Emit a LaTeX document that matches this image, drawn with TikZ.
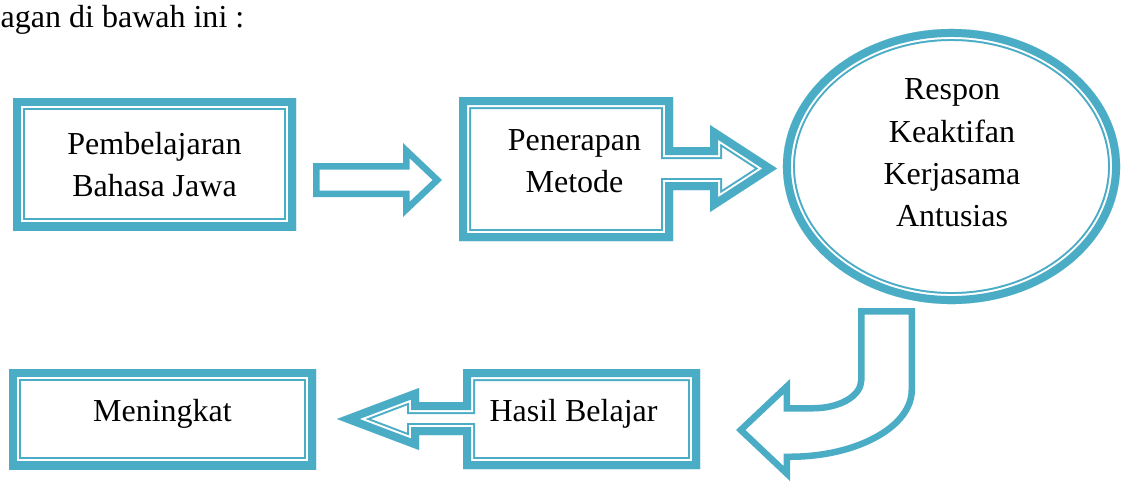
\documentclass[tikz,border=0pt]{standalone}
\usepackage{fontspec}
\setmainfont{Liberation Serif}
\definecolor{aqua}{RGB}{75,172,198}
\newcommand{\px}{0.025cm}
% thick band + thin inner line, both kept inside the outline
\newcommand{\dblframe}[1]{%
  \begin{scope}
    \clip #1;
    \draw[aqua,line width=24*\px] #1;
    \draw[white,line width=20*\px] #1;
    \draw[aqua,line width=16*\px] #1;
  \end{scope}}
% single band inside the outline
\newcommand{\oneframe}[1]{%
  \begin{scope}
    \clip #1;
    \draw[aqua,line width=13*\px] #1;
  \end{scope}}
\tikzset{lbl/.style={font=\fontsize{22.76}{29.9}\selectfont,align=center,inner sep=0pt}}

\begin{document}
\begin{tikzpicture}[x=0.025cm,y=-0.025cm,line join=miter]
\useasboundingbox (0,0) rectangle (1123,482);

% frames
\dblframe{(13,98) rectangle (296,230)}
\oneframe{(313,163) -- (403,163) -- (403,143) -- (442,180) -- (403,217) -- (403,197) -- (313,197) -- cycle}
\dblframe{(459,97) -- (673,97) -- (673,147) -- (710,147) -- (710,125) -- (777,168.5) -- (710,212) -- (710,190) -- (673,190) -- (673,241) -- (459,241) -- cycle}
\dblframe{(951.5,166.5) ellipse [x radius=4.2125cm,y radius=3.4375cm]}
\oneframe{(858,308) -- (915,308) -- (915,390) .. controls (915,428.7) and (859,460) .. (790,460) -- (790,481) -- (736,430) -- (790,379) -- (790,405) -- (813,405) .. controls (837.9,405) and (858,393.8) .. (858,380) -- cycle}
\dblframe{(700,369) -- (463,369) -- (463,402) -- (419,402) -- (419,388) -- (337,419) -- (419,450) -- (419,435) -- (463,435) -- (463,469) -- (700,469) -- cycle}
\dblframe{(9,369) rectangle (316,469)}

% texts
\node[lbl] (intro) at (122.5,19.8) {agan di bawah ini :};
\node[lbl] (pemb) at (154.5,164.6) {Pembelajaran\\Bahasa Jawa};
\node[lbl] (metode) at (574.5,161.4) {Penerapan\\Metode};
\node[lbl] (respon) at (952,152.7) {Respon\\Keaktifan\\Kerjasama\\Antusias};
\node[lbl] (hasil) at (573.5,414.2) {Hasil Belajar};
\node[lbl] (meningkat) at (162.5,414.2) {Meningkat};
\end{tikzpicture}
\end{document}
